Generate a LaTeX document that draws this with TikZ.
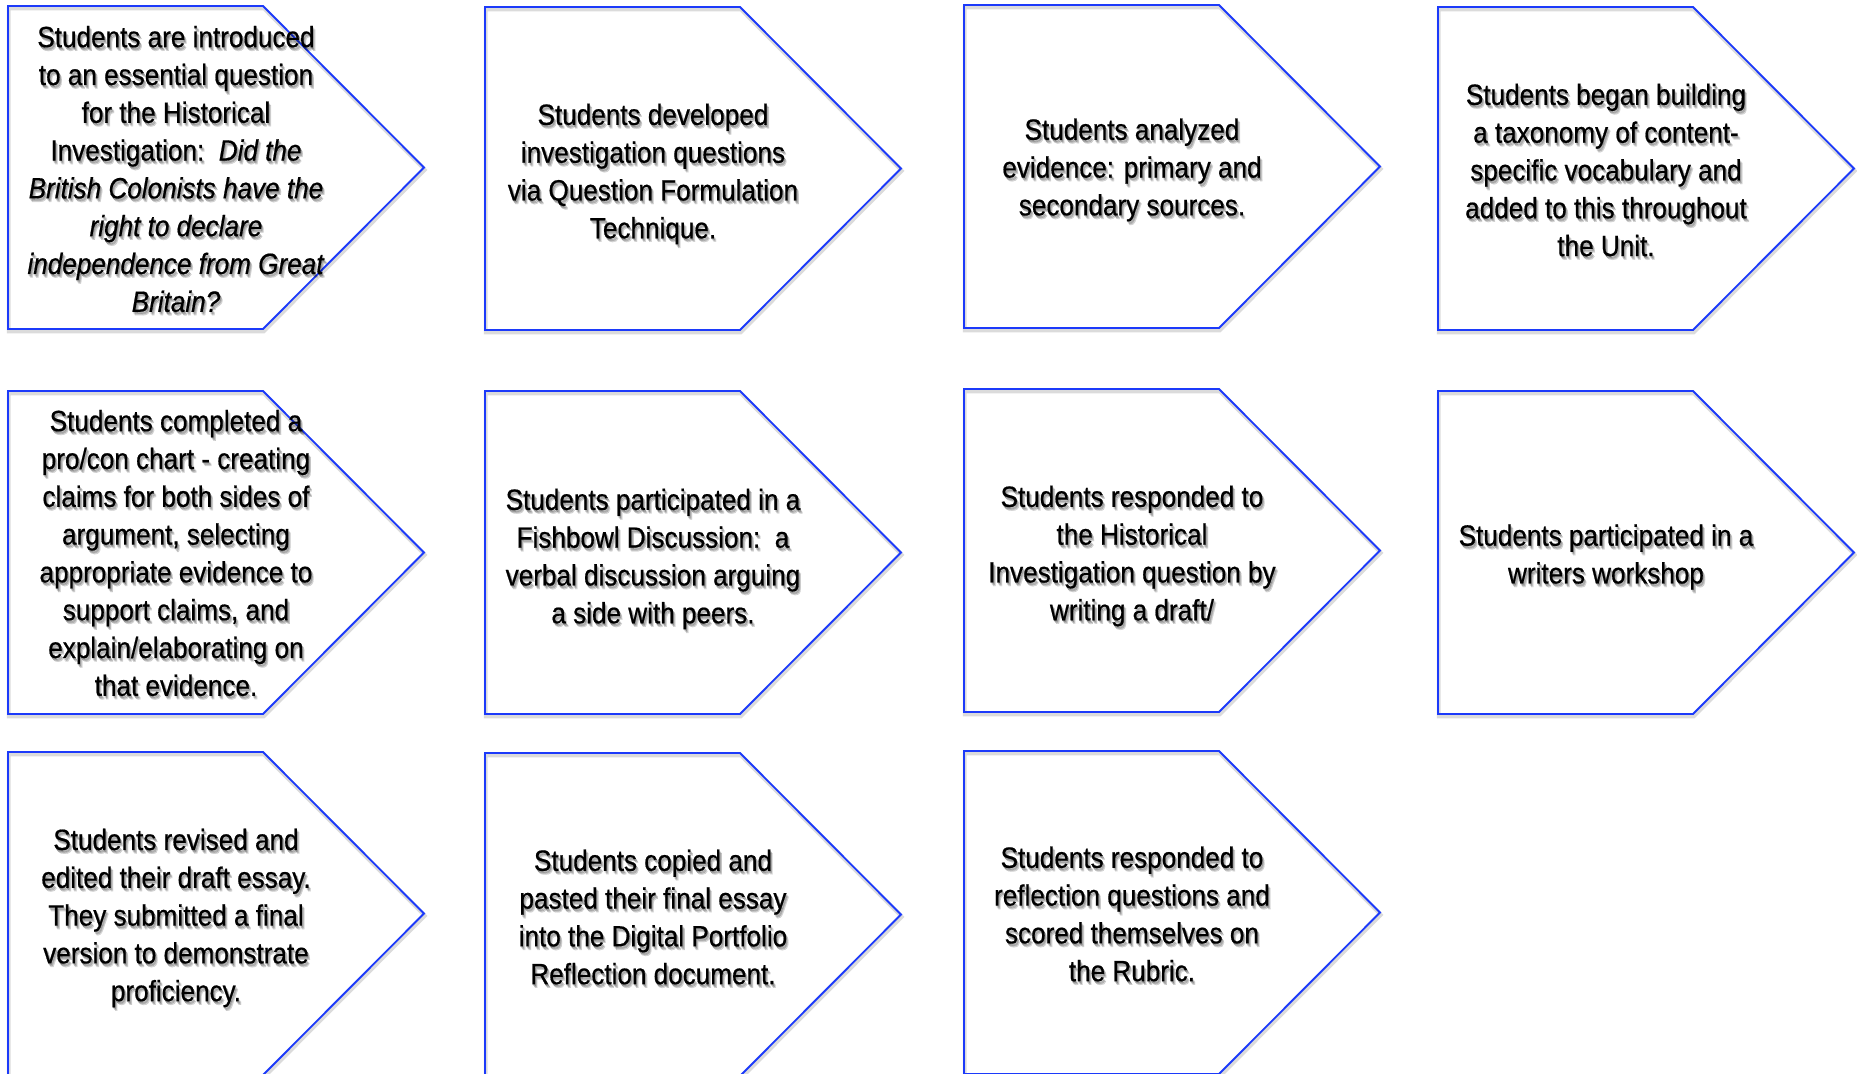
\documentclass[tikz,border=0pt]{standalone}
\usepackage{fontspec}
\setmainfont[FakeStretch=0.89,FakeBold=0.6]{Liberation Sans}
\usepackage{tikz}
\usetikzlibrary{calc}
\definecolor{stageblue}{RGB}{28,58,250}
\tikzset{stage/.style={draw=stageblue,line width=1.4pt,line join=miter,
    preaction={draw=black,opacity=0.14,line width=2.8pt,
      transform canvas={shift={(0.6pt,-1.8pt)}}}},
  stagetext/.style={align=center,inner sep=0pt,
    font=\fontsize{22}{28.35}\selectfont}}
% soft shadow under the text: a few faint copies, then the text itself
\newcommand{\stagelabel}[3]{%
  \foreach \sx/\sy in {0.8/1.6,1.6/2.6,2.4/3.6}
    \node [stagetext,opacity=0.15] at ([shift={(\sx,\sy)}]#1) {#3};
  \node [stagetext] (#2) at (#1) {#3};}

\begin{document}
\begin{tikzpicture}[x=0.75pt,y=0.75pt,yscale=-1,xscale=1]
\useasboundingbox (0,0) rectangle (1857,1074);

%Shape: Pentagon Arrow [row 1]
\draw [stage] (8,6) -- ++(255,0) -- ++(161,161.5) -- ++(-161,161.5) -- ++(-255,0) -- cycle ;
%Shape: Pentagon Arrow
\draw [stage] (485,7) -- ++(255,0) -- ++(161,161.5) -- ++(-161,161.5) -- ++(-255,0) -- cycle ;
%Shape: Pentagon Arrow
\draw [stage] (964,5) -- ++(255,0) -- ++(161,161.5) -- ++(-161,161.5) -- ++(-255,0) -- cycle ;
%Shape: Pentagon Arrow
\draw [stage] (1438,7) -- ++(255,0) -- ++(161,161.5) -- ++(-161,161.5) -- ++(-255,0) -- cycle ;

%Shape: Pentagon Arrow [row 2]
\draw [stage] (8,391) -- ++(255,0) -- ++(161,161.5) -- ++(-161,161.5) -- ++(-255,0) -- cycle ;
%Shape: Pentagon Arrow
\draw [stage] (485,391) -- ++(255,0) -- ++(161,161.5) -- ++(-161,161.5) -- ++(-255,0) -- cycle ;
%Shape: Pentagon Arrow
\draw [stage] (964,389) -- ++(255,0) -- ++(161,161.5) -- ++(-161,161.5) -- ++(-255,0) -- cycle ;
%Shape: Pentagon Arrow
\draw [stage] (1438,391) -- ++(255,0) -- ++(161,161.5) -- ++(-161,161.5) -- ++(-255,0) -- cycle ;

%Shape: Pentagon Arrow [row 3]
\draw [stage] (8,752) -- ++(255,0) -- ++(161,161.5) -- ++(-161,161.5) -- ++(-255,0) -- cycle ;
%Shape: Pentagon Arrow
\draw [stage] (485,753) -- ++(255,0) -- ++(161,161.5) -- ++(-161,161.5) -- ++(-255,0) -- cycle ;
%Shape: Pentagon Arrow
\draw [stage] (964,751) -- ++(255,0) -- ++(161,161.5) -- ++(-161,161.5) -- ++(-255,0) -- cycle ;

% Text Node
\stagelabel{176,169}{intro}{Students are introduced\\ to an essential question\\ for the Historical\\ Investigation:\ \ \textit{Did the}\\ \textit{British Colonists have the}\\ \textit{right to declare}\\ \textit{independence from Great}\\ \textit{Britain?}}
% Text Node
\stagelabel{653,174}{questions}{Students developed\\ investigation questions\\ via Question Formulation\\ Technique.}
% Text Node
\stagelabel{1132,170}{evidence}{Students analyzed\\ evidence: primary and\\ secondary sources.}
% Text Node
\stagelabel{1606,170}{vocab}{Students began building\\ a taxonomy of content-\\ specific vocabulary and\\ added to this throughout\\ the Unit.}

% Text Node
\stagelabel{176,553}{procon}{Students completed a\\ pro/con chart - creating\\ claims for both sides of\\ argument, selecting\\ appropriate evidence to\\ support claims, and\\ explain/elaborating on\\ that evidence.}
% Text Node
\stagelabel{653,559}{fishbowl}{Students participated in a\\ Fishbowl Discussion:\ \ a\\ verbal discussion arguing\\ a side with peers.}
% Text Node
\stagelabel{1132,556}{draft}{Students responded to\\ the Historical\\ Investigation question by\\ writing a draft/}
% Text Node
\stagelabel{1606,557}{workshop}{Students participated in a\\ writers workshop}

% Text Node
\stagelabel{176,918}{revise}{Students revised and\\ edited their draft essay.\\ They submitted a final\\ version to demonstrate\\ proficiency.}
% Text Node
\stagelabel{653,917}{portfolio}{Students copied and\\ pasted their final essay\\ into the Digital Portfolio\\ Reflection document.}
% Text Node
\stagelabel{1132,914}{reflect}{Students responded to\\ reflection questions and\\ scored themselves on\\ the Rubric.}

\end{tikzpicture}
\end{document}
